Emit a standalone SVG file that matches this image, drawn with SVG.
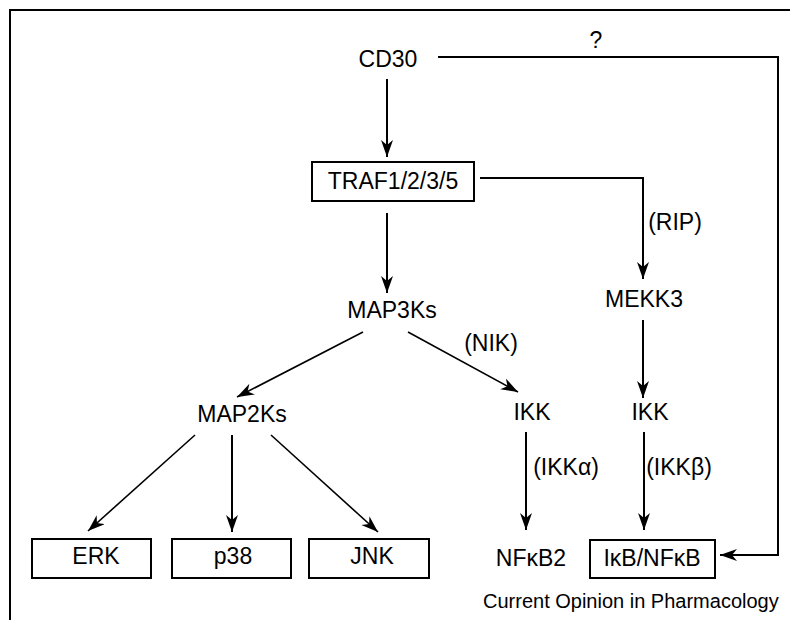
<svg xmlns="http://www.w3.org/2000/svg" width="790" height="620" viewBox="0 0 790 620">
  <style>
    text { font-family: "Liberation Sans", Arial, sans-serif; font-size: 23px; fill: #000; text-anchor: middle; }
    .small { font-size: 20px; text-anchor: start; }
    .box { fill: #fff; stroke: #000; stroke-width: 2; }
    .conn { fill: none; stroke: #000; stroke-width: 2; }
    .diag { fill: none; stroke: #000; stroke-width: 1.6; }
    .frame { fill: none; stroke: #000; stroke-width: 2; }
  </style>
  <defs>
    <marker id="arrow" markerUnits="userSpaceOnUse" markerWidth="19" markerHeight="13" refX="17" refY="6" orient="auto">
      <path d="M0,0 L17,6 L0,12 L5,6 Z" fill="#000"/>
    </marker>
  </defs>
  <rect width="790" height="620" fill="#fff"/>
  <path class="frame" d="M10,620 L10,10 L790,10"/>

  <g id="connectors">
    <path class="conn" d="M438,57 L778,57 L778,555 L720,555" marker-end="url(#arrow)"/>
    <line class="conn" x1="387" y1="79" x2="387" y2="157" marker-end="url(#arrow)"/>
    <path class="conn" d="M480,178 L643,178 L643,279" marker-end="url(#arrow)"/>
    <line class="conn" x1="387" y1="213" x2="387" y2="293" marker-end="url(#arrow)"/>
    <line class="diag" x1="363" y1="332" x2="237" y2="397" marker-end="url(#arrow)"/>
    <line class="diag" x1="408" y1="332" x2="518" y2="392" marker-end="url(#arrow)"/>
    <line class="conn" x1="643" y1="320" x2="643" y2="398" marker-end="url(#arrow)"/>
    <line class="diag" x1="195" y1="435" x2="88" y2="531" marker-end="url(#arrow)"/>
    <line class="conn" x1="232" y1="435" x2="232" y2="532" marker-end="url(#arrow)"/>
    <line class="diag" x1="271" y1="435" x2="378" y2="532" marker-end="url(#arrow)"/>
    <line class="conn" x1="526" y1="432" x2="526" y2="530" marker-end="url(#arrow)"/>
    <line class="conn" x1="644" y1="432" x2="644" y2="530" marker-end="url(#arrow)"/>
    <text x="596" y="48">?</text>
    <text x="675" y="230">(RIP)</text>
    <text x="491" y="351">(NIK)</text>
    <text x="566" y="475">(IKKα)</text>
    <text x="679" y="475">(IKKβ)</text>
  </g>

  <g id="CD30"><text x="388" y="67">CD30</text></g>
  <g id="TRAF">
    <rect class="box" x="312" y="162" width="162" height="39"/>
    <text x="393" y="189">TRAF1/2/3/5</text>
  </g>
  <g id="MAP3Ks"><text x="392" y="318">MAP3Ks</text></g>
  <g id="MEKK3"><text x="644" y="307">MEKK3</text></g>
  <g id="MAP2Ks"><text x="242" y="422">MAP2Ks</text></g>
  <g id="IKK1"><text x="532" y="420">IKK</text></g>
  <g id="IKK2"><text x="650" y="420">IKK</text></g>
  <g id="ERK">
    <rect class="box" x="32" y="539" width="119" height="39"/>
    <text x="96" y="564">ERK</text>
  </g>
  <g id="p38">
    <rect class="box" x="172" y="539" width="119" height="39"/>
    <text x="233" y="564">p38</text>
  </g>
  <g id="JNK">
    <rect class="box" x="309" y="539" width="120" height="39"/>
    <text x="372" y="564">JNK</text>
  </g>
  <g id="NFkB2"><text x="531" y="566">NFκB2</text></g>
  <g id="IkB-NFkB">
    <rect class="box" x="590" y="540" width="125" height="38"/>
    <text x="652" y="566">IκB/NFκB</text>
  </g>
  <text class="small" x="483" y="608">Current Opinion in Pharmacology</text>
</svg>
